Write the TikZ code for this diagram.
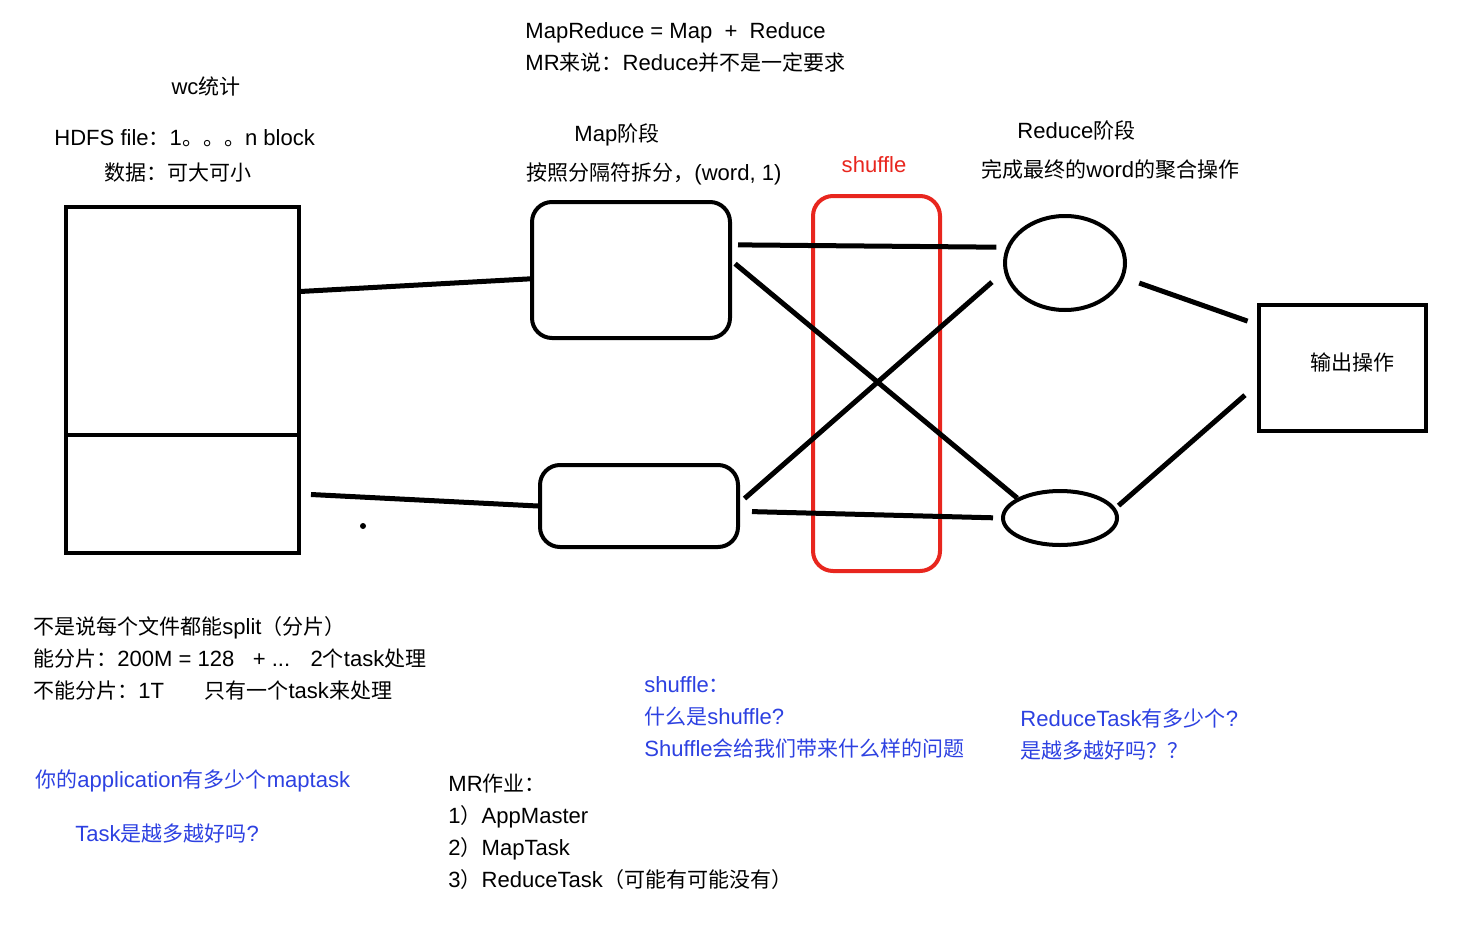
\documentclass[tikz,border=0pt]{standalone}
\usepackage{fontspec}
\setmainfont{Liberation Sans}[Scale=1.05]
\newfontfamily\cjkfont{Noto Sans CJK SC}
% switch to the CJK font for Chinese characters and back for Latin ones
\newXeTeXintercharclass\cjkclass
\newcount\cjkchar
\def\setcjkrange#1#2{\cjkchar=#1
  \loop\ifnum\cjkchar<#2 \XeTeXcharclass\cjkchar=\cjkclass \advance\cjkchar 1 \repeat}
\setcjkrange{"3000}{"3040}
\setcjkrange{"4E00}{"A000}
\setcjkrange{"FF00}{"FFF0}
\XeTeXinterchartokenstate=1
\XeTeXinterchartoks 0 \cjkclass = {\cjkfont}
\XeTeXinterchartoks 4095 \cjkclass = {\cjkfont}
\XeTeXinterchartoks \cjkclass 0 = {\rmfamily}
\XeTeXinterchartoks 4095 0 = {\rmfamily}
\usetikzlibrary{shapes.geometric}
\definecolor{noteblue}{RGB}{45,65,225}
\definecolor{shufred}{RGB}{232,38,30}
\tikzset{
  box/.style={draw, line width=2pt, inner sep=0pt},
  mapbox/.style={box, rounded corners=10pt, minimum width=99pt},
  redbox/.style={box, ellipse},
  link/.style={line width=2.5pt},
  txt/.style={anchor=west, inner sep=0pt, align=left, font=\fontsize{10.5}{16}\selectfont},
}
\begin{document}
\begin{tikzpicture}[x=0.5pt, y=-0.5pt]
    \useasboundingbox (0,0) rectangle (1481,931);
    % HDFS file
    \node[box, minimum width=116.5pt, minimum height=114pt] (blk1) at (182.5,321) {};
    \node[box, minimum width=116.5pt, minimum height=59pt] (blk2) at (182.5,494) {};
    % map / shuffle / reduce
    \node[mapbox, minimum height=68pt] (map1) at (631,270) {};
    \node[mapbox, minimum height=41pt] (map2) at (639,506) {};
    \node[box, draw=shufred, rounded corners=10pt, minimum width=63.5pt, minimum height=187.5pt] (shuf) at (876.5,383.5) {};
    \node[redbox, minimum width=60pt, minimum height=47pt] (red1) at (1065,263) {};
    \node[redbox, minimum width=57pt, minimum height=27pt] (red2) at (1060,518) {};
    \node[box, minimum width=83.5pt, minimum height=63pt] (out) at (1342.5,368) {};
    \node[txt, anchor=center] (outt) at (1352,362) {输出操作};
    \fill (363,526) circle (1.5pt);
    % connectors
    \draw[link] (blk1.14) -- (map1.185);
    \draw[link, shorten <=5pt] (blk2.east) -- (map2.west);
    \draw[link, shorten <=3pt, shorten >=5pt] (map1.14) -- (red1.165);
    \draw[link, shorten <=2pt] (map1.5) -- (red2.155);
    \draw[link, shorten <=3pt, shorten >=8pt] (map2.2) -- (red1.188);
    \draw[link, shorten <=6pt, shorten >=4pt] (map2.-3) -- (red2.west);
    \draw[link, shorten <=8pt, shorten >=5pt] (red1.-14) -- (out.153);
    \draw[link, shorten <=2pt, shorten >=8pt] (red2.10) -- (out.191);
    % texts
    \node[txt, anchor=center] (wc) at (206,86) {wc统计};
    \node[txt] (hdfs) at (54,138) {HDFS file：1。。。n block};
    \node[txt] (data) at (104,173) {数据：可大可小};
    \node[txt, anchor=north west] (mr) at (525,22) {MapReduce = Map \ + \ Reduce\\MR来说：Reduce并不是一定要求};
    \node[txt] (mapt) at (574,135) {Map阶段};
    \node[txt] (mapd) at (526,174) {按照分隔符拆分，(word, 1)};
    \node[txt, anchor=center, text=shufred] (shuft) at (874,165) {shuffle};
    \node[txt] (redt) at (1017,130) {Reduce阶段};
    \node[txt] (redd) at (981,170) {完成最终的word的聚合操作};
    \node[txt, anchor=north west] (split) at (33,616) {不是说每个文件都能split（分片）\\能分片：200M = 128 \ \ + ... \ \ 2个task处理\\不能分片：1T \quad\ \ 只有一个task来处理};
    \node[txt, text=noteblue] (app) at (35,781) {你的application有多少个maptask};
    \node[txt, text=noteblue] (many) at (75,834) {Task是越多越好吗?};
    \node[txt, anchor=north west, text=noteblue] (shufq) at (644,676) {shuffle：\\什么是shuffle?\\Shuffle会给我们带来什么样的问题};
    \node[txt, anchor=north west, text=noteblue] (redq) at (1020,708) {ReduceTask有多少个?\\是越多越好吗？？};
    \node[txt, anchor=north west] (job) at (448,774) {MR作业：\\1）AppMaster\\2）MapTask\\3）ReduceTask（可能有可能没有）};
\end{tikzpicture}
\end{document}
